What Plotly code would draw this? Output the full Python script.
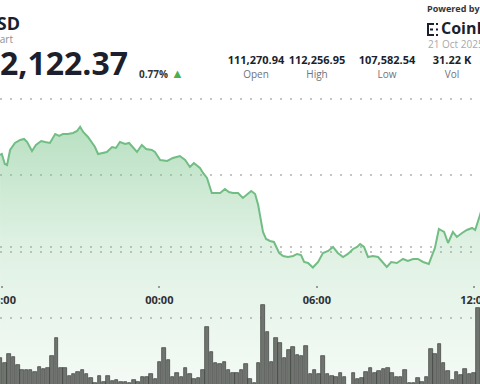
import plotly.graph_objects as go
import pandas as pd

# ---------------- data ----------------
price_times = [
    "2025-10-20 17:56", "2025-10-20 18:00", "2025-10-20 18:07", "2025-10-20 18:12", "2025-10-20 18:19",
    "2025-10-20 18:30", "2025-10-20 18:42", "2025-10-20 18:51", "2025-10-20 18:58", "2025-10-20 19:09",
    "2025-10-20 19:18", "2025-10-20 19:30", "2025-10-20 19:39", "2025-10-20 19:50", "2025-10-20 20:02",
    "2025-10-20 20:11", "2025-10-20 20:20", "2025-10-20 20:31", "2025-10-20 20:43", "2025-10-20 20:52",
    "2025-10-20 20:59", "2025-10-20 21:06", "2025-10-20 21:17", "2025-10-20 21:26", "2025-10-20 21:33",
    "2025-10-20 21:40", "2025-10-20 21:51", "2025-10-20 22:00", "2025-10-20 22:12", "2025-10-20 22:21",
    "2025-10-20 22:30", "2025-10-20 22:42", "2025-10-20 22:51", "2025-10-20 23:00", "2025-10-20 23:09",
    "2025-10-20 23:20", "2025-10-20 23:30", "2025-10-20 23:43", "2025-10-20 23:50", "2025-10-21 00:02",
    "2025-10-21 00:18", "2025-10-21 00:31", "2025-10-21 00:47", "2025-10-21 00:59", "2025-10-21 01:10",
    "2025-10-21 01:19", "2025-10-21 01:33", "2025-10-21 01:40", "2025-10-21 01:49", "2025-10-21 02:00",
    "2025-10-21 02:12", "2025-10-21 02:19", "2025-10-21 02:30", "2025-10-21 02:39", "2025-10-21 02:48",
    "2025-10-21 03:00", "2025-10-21 03:11", "2025-10-21 03:20", "2025-10-21 03:30", "2025-10-21 03:39",
    "2025-10-21 03:46", "2025-10-21 03:57", "2025-10-21 04:04", "2025-10-21 04:13", "2025-10-21 04:22",
    "2025-10-21 04:34", "2025-10-21 04:43", "2025-10-21 04:54", "2025-10-21 05:06", "2025-10-21 05:15",
    "2025-10-21 05:24", "2025-10-21 05:31", "2025-10-21 05:40", "2025-10-21 05:51", "2025-10-21 06:03",
    "2025-10-21 06:14", "2025-10-21 06:26", "2025-10-21 06:37", "2025-10-21 06:48", "2025-10-21 07:00",
    "2025-10-21 07:11", "2025-10-21 07:23", "2025-10-21 07:32", "2025-10-21 07:39", "2025-10-21 07:48",
    "2025-10-21 07:57", "2025-10-21 08:08", "2025-10-21 08:20", "2025-10-21 08:31", "2025-10-21 08:40",
    "2025-10-21 08:50", "2025-10-21 09:03", "2025-10-21 09:17", "2025-10-21 09:28", "2025-10-21 09:40",
    "2025-10-21 09:51", "2025-10-21 10:03", "2025-10-21 10:16", "2025-10-21 10:30", "2025-10-21 10:39",
    "2025-10-21 10:51", "2025-10-21 11:00", "2025-10-21 11:11", "2025-10-21 11:20", "2025-10-21 11:32",
    "2025-10-21 11:43", "2025-10-21 11:55", "2025-10-21 12:02", "2025-10-21 12:13", "2025-10-21 12:27",
]
price_values = [
    111320, 111354, 111022, 110988, 111486,
    111719, 111818, 111852, 111752, 111453,
    111652, 111785, 111752, 111719, 112018,
    111951, 112018, 112018, 112051, 112117,
    112257, 112084, 111918, 111752, 111586,
    111354, 111387, 111420, 111586, 111553,
    111752, 111686, 111719, 111553, 111420,
    111652, 111520, 111486, 111420, 111154,
    111121, 111221, 111287, 111154, 110922,
    111055, 110889, 110723, 110557, 110059,
    110059, 110059, 110192, 110092, 110059,
    110059, 109893, 109992, 110125, 110026,
    109660, 108764, 108532, 108465, 108432,
    108067, 107967, 107934, 107967, 108034,
    108000, 107768, 107735, 107583, 107768,
    108067, 108133, 108266, 108067, 107934,
    108034, 108200, 108266, 108366, 108266,
    107934, 107967, 107934, 107768, 107602,
    107768, 107735, 107868, 107801, 107868,
    107868, 107768, 107702, 108233, 108864,
    108764, 108399, 108764, 108598, 108731,
    108830, 108897, 108830, 109328, 109992,
]

vol_values = [
    336, 296, 368, 344, 280, 240, 240, 240, 224, 264,
    248, 256, 352, 496, 256, 256, 192, 208, 224, 240,
    208, 176, 136, 192, 144, 192, 152, 160, 144, 144,
    136, 160, 144, 184, 184, 208, 168, 304, 416, 320,
    184, 216, 184, 256, 208, 168, 176, 240, 584, 384,
    296, 288, 304, 240, 216, 216, 240, 288, 168, 136,
    296, 760, 544, 304, 496, 456, 336, 400, 424, 360,
    352, 432, 208, 240, 208, 352, 208, 192, 184, 216,
    184, 120, 216, 168, 176, 224, 256, 216, 232, 248,
    256, 216, 184, 184, 240, 136, 136, 176, 144, 184,
    408, 368, 448, 296, 232, 160, 224, 200, 248, 208,
    216, 736,
]
bar_start = "2025-10-20 17:57:10"
bar_step = "590s"
bar_times = pd.date_range(bar_start, periods=len(vol_values), freq=bar_step)

tick_labels = ["18:00", "00:00", "06:00", "12:00"]
tick_times = ["2025-10-20 18:00", "2025-10-21 00:00", "2025-10-21 06:00", "2025-10-21 12:00"]

header_price = "112,122.37"
header_change = "0.77%"
stat_values = ["111,270.94", "112,256.95", "107,582.54", "31.22 K"]
stat_labels = ["Open", "High", "Low", "Vol"]
date_text = "21 Oct 2025"

# ---------------- figure ----------------
W, H = 480, 384
FONT = "Open Sans"
price_range = [103717, 116466]
vol_range = [128, 3200]
green = "#72bd84"
dark = "#1b1f2e"

fig = go.Figure()
fig.add_trace(go.Scatter(
    x=price_times, y=price_values, mode="lines",
    line=dict(color=green, width=2),
    fill="tozeroy",
    fillgradient=dict(
        type="vertical",
        start=price_range[0], stop=112257,
        colorscale=[[0, "rgba(120,196,138,0.08)"], [0.55, "rgba(120,196,138,0.24)"],
                    [1, "rgba(120,196,138,0.52)"]],
    ),
    hoverinfo="skip", showlegend=False, xaxis="x", yaxis="y",
))
fig.add_trace(go.Bar(
    x=bar_times, y=vol_values, width=480000,
    marker=dict(color="#70746f", line=dict(color="#3c3f3c", width=0.7)),
    hoverinfo="skip", showlegend=False, xaxis="x", yaxis="y2",
))

# time-axis labels: placed on the date axis, vertically in the overlay text layer
fig.add_trace(go.Scatter(
    x=tick_times, y=[301] * len(tick_times), mode="text",
    text=[f"<b>{t}</b>" for t in tick_labels], textposition="middle center",
    textfont=dict(family=FONT, size=11, color="#2d2f33"),
    hoverinfo="skip", showlegend=False, xaxis="x", yaxis="y3",
))

# header texts (layout layer, in pixel-like overlay coordinates, clipped at the edges)
hdr_text, hdr_x, hdr_y, hdr_pos, hdr_size, hdr_color = [], [], [], [], [], []
def add(text, x, y, size, color, pos="middle right", bold=False):
    hdr_text.append(f"<b>{text}</b>" if bold else text)
    hdr_x.append(x); hdr_y.append(y); hdr_pos.append(pos)
    hdr_size.append(size); hdr_color.append(color)

add("BTC/USD", 20, 25, 18, dark, pos="middle left", bold=True)
add("Chart", 13, 40, 10, "#8a8f98", pos="middle left")
add(header_price, 128, 67, 32, dark, pos="middle left", bold=True)
add(header_change, 139, 75, 10, "#333333", bold=True)
add("▲", 171, 75, 13, "#4caf50")
stat_x = [256, 317, 387, 452]
for v, lab, xc in zip(stat_values, stat_labels, stat_x):
    add(v, xc, 61, 11, dark, pos="middle center", bold=True)
    add(lab, xc, 75, 10, "#6f737a", pos="middle center")
add("Powered by", 427, 10, 9, "#33363b", bold=True)
add("CoinDesk", 441, 30, 16, dark, bold=True)
add(date_text, 428, 45, 10, "#a7a9ad")

fig.add_trace(go.Scatter(
    x=hdr_x, y=hdr_y, mode="text", text=hdr_text, textposition=hdr_pos,
    textfont=dict(family=FONT, size=hdr_size, color=hdr_color),
    hoverinfo="skip", showlegend=False, xaxis="x2", yaxis="y3",
))

dotted = "1.5px,8.5px"
fig.update_layout(
    width=W, height=H,
    margin=dict(l=0, r=0, t=0, b=0, pad=0),
    paper_bgcolor="white", plot_bgcolor="white",
    bargap=0,
    xaxis=dict(
        type="date",
        range=["2025-10-20 17:55:53", "2025-10-21 12:13:01"],
        tickvals=tick_times, ticktext=tick_labels, showticklabels=False,
        anchor="free", position=(H - 285) / H,
        showline=False, showgrid=False, zeroline=False,
        ticks="outside", ticklen=2, tickwidth=1.5, tickcolor="#9a9a9a",
    ),
    xaxis2=dict(range=[0, W], overlaying="x", visible=False, anchor="y3"),
    yaxis=dict(
        range=price_range, showticklabels=False, zeroline=False, showline=False,
        tickvals=[108100, 110656, 113180],
        showgrid=True, gridcolor="#c4c4c4", gridwidth=1.5, griddash=dotted,
    ),
    yaxis2=dict(
        range=vol_range, overlaying="y", showticklabels=False, zeroline=False, showline=False,
        tickvals=[656, 1224],
        showgrid=True, gridcolor="#c4c4c4", gridwidth=1.5, griddash=dotted,
    ),
    yaxis3=dict(range=[H, 0], overlaying="y", visible=False, anchor="x2"),
)

# small CoinDesk logo mark
def px(xp):
    return xp / W

def py(yp):
    return 1 - yp / H

logo = [
    (427, 23, 429, 36), (429, 23, 434, 25), (429, 34, 434, 36),
    (430, 28.5, 433, 30.5), (436, 23, 438, 25), (436, 34, 438, 36), (436, 28.5, 438, 30.5),
]
shapes = []
for x0, y0, x1, y1 in logo:
    shapes.append(dict(type="rect", xref="paper", yref="paper",
                       x0=px(x0), x1=px(x1), y0=py(y1), y1=py(y0),
                       fillcolor=dark, line=dict(width=0)))
fig.update_layout(shapes=shapes)

fig.write_html(
    "out.html",
    config={"displayModeBar": False},
    post_script="document.body.style.margin='0';document.body.style.overflow='hidden';",
)
